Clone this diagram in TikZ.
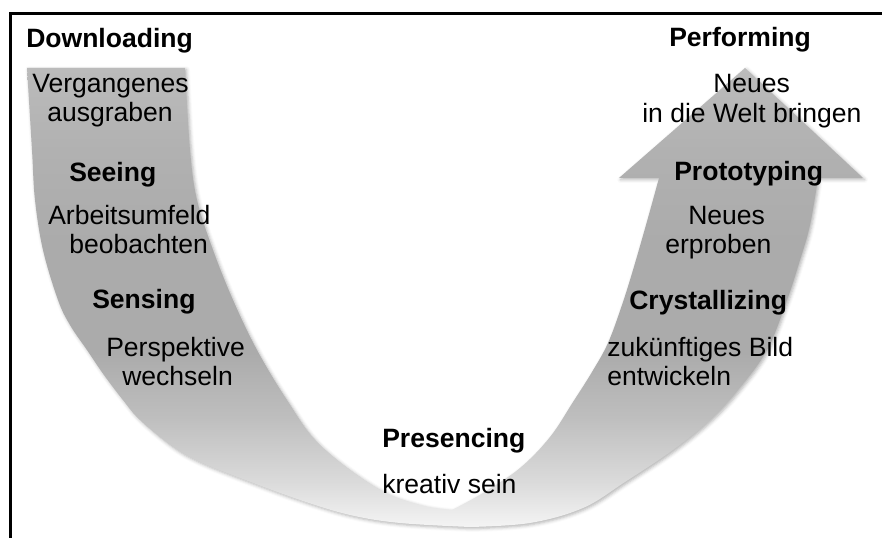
\documentclass[tikz,border=0pt]{standalone}
\usepackage{fontspec}
\setmainfont{Liberation Sans}
\usetikzlibrary{shadows.blur}
\definecolor{cz}{HTML}{F4F4F4}
\definecolor{ca}{HTML}{DADADA}
\definecolor{cb}{HTML}{BEBEBE}
\definecolor{cc}{HTML}{ABABAB}
\definecolor{cd}{HTML}{B1B1B1}
\definecolor{ce}{HTML}{BBBBBB}
\pgfdeclareverticalshading{ushade}{100bp}{color(0bp)=(cz); color(25bp)=(cz); color(30bp)=(ca); color(37bp)=(cb); color(44bp)=(cc); color(56bp)=(cc); color(66bp)=(cd); color(75bp)=(ce); color(100bp)=(ce)}
\begin{document}
\begin{tikzpicture}[x=0.75pt,y=-0.75pt,
  txt/.style={anchor=base west, inner sep=0pt, font=\fontsize{19.9}{24}\selectfont},
  btxt/.style={anchor=base west, inner sep=0pt, font=\fontsize{19.9}{24}\selectfont\bfseries},
  frame/.style={line width=1.6pt, black}]
\useasboundingbox (0,0) rectangle (882,538);
% U-shaped arrow
\shade[shading=ushade, blur shadow={shadow xshift=1.2pt, shadow yshift=-1.2pt, shadow blur radius=2.5pt, shadow opacity=30}]
  (27,68) -- (185,68)
  -- plot[smooth, tension=0.6] coordinates {(185,68) (190,150) (197,200) (213,250) (233,300) (257,350) (287,400) (320,445) (377,488) (420,505) (452,510)}
  -- plot[smooth, tension=0.6] coordinates {(452,510) (483,493) (520,468) (550,437) (573,402) (592,372) (608,343) (622,305) (633,270) (646,225) (659,178)}
  -- (619,178) -- (745,68) -- (863,178) -- (818,178)
  -- plot[smooth, tension=0.6] coordinates {(818,178) (810,225) (800,260) (787,300) (767,350) (738,390) (710,420) (673,450) (625,482) (583,508) (530,523) (470,527)}
  -- plot[smooth, tension=0.6] coordinates {(470,527) (400,523) (350,515) (300,500) (240,478) (200,462) (173,447) (140,420) (123,400) (104,375) (87,350) (70,325) (58,300) (43,250) (35,200) (32,150) (27,68)}
  -- cycle;
% frame
\coordinate (ftl) at (10.5,13.5);
\coordinate (ftr) at (882,13.5);
\coordinate (fbl) at (10.5,538);
\draw[frame] (fbl) -- (ftl) -- (ftr);
% texts
\node[btxt] (downloading) at (26,48) {Downloading};
\node[txt] (vg1) at (32,93) {Vergangenes};
\node[txt] (vg2) at (47,122) {ausgraben};
\node[btxt] (seeing) at (69,182) {Seeing};
\node[txt] (ab1) at (48,225) {Arbeitsumfeld};
\node[txt] (ab2) at (69,254) {beobachten};
\node[btxt] (sensing) at (92,309) {Sensing};
\node[txt] (pw1) at (106,357) {Perspektive};
\node[txt] (pw2) at (122,386) {wechseln};
\node[btxt] (presencing) at (382,447) {Presencing};
\node[txt] (ks) at (382,493) {kreativ sein};
\node[btxt] (performing) at (669,47) {Performing};
\node[txt] (nw1) at (713,93) {Neues};
\node[txt] (nw2) at (642,123) {in die Welt bringen};
\node[btxt] (prototyping) at (674,181) {Prototyping};
\node[txt] (ne1) at (688,225) {Neues};
\node[txt] (ne2) at (665,254) {erproben};
\node[btxt] (crystallizing) at (629,310) {Crystallizing};
\node[txt] (zb1) at (607,357) {zukünftiges Bild};
\node[txt] (zb2) at (607,386) {entwickeln};
\end{tikzpicture}
\end{document}
